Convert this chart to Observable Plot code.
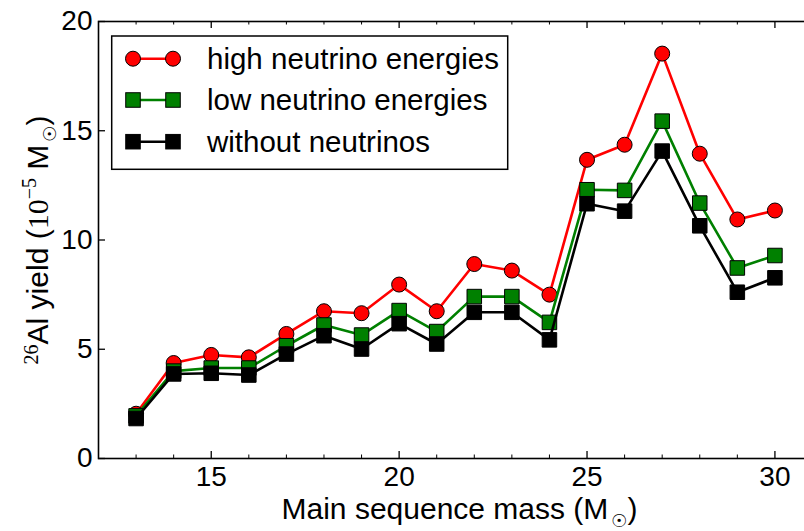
<!DOCTYPE html>
<html><head><meta charset="utf-8">
<script src="https://cdn.jsdelivr.net/npm/d3@7"></script>
<script src="https://cdn.jsdelivr.net/npm/@observablehq/plot@0.6"></script>
<style>body{margin:0;overflow:hidden;background:#fff}</style>
</head><body><div id="chart"></div>
<script>
// ---- data ----
const masses = [13,14,15,16,17,18,19,20,21,22,23,24,25,26,27,28,29,30];
const highNu = [2.05,4.37,4.74,4.63,5.70,6.74,6.65,7.96,6.74,8.90,8.60,7.50,13.67,14.36,18.53,13.95,10.94,11.35];
const lowNu  = [1.95,4.00,4.14,4.14,5.16,6.11,5.65,6.77,5.81,7.41,7.41,6.23,12.30,12.27,15.44,11.69,8.72,9.29];
const noNu   = [1.83,3.87,3.90,3.82,4.78,5.62,5.01,6.17,5.24,6.69,6.69,5.43,11.66,11.32,14.07,10.65,7.61,8.27];
const seriesNames = ["high neutrino energies","low neutrino energies","without neutrinos"];
const xMajorTicks = [15,20,25,30];
const xMinorTicks = [13,14,16,17,18,19,21,22,23,24,26,27,28,29];
const yTicks = [0,5,10,15,20];
const xLabelText = "Main sequence mass (M☉)";
const yLabelText = "26Al yield (10−5 M☉)";

// ---- styles ----
const colors = ["#ff0000","#008000","#000000"];
const symbols = ["circle","square","square"];
const radii = [7.5,8.2,8.2];
const W = 804, H = 531, mL = 98, mT = 21, mB = 73, mR = -8;
const innerH = H - mT - mB, innerW = W - mL - mR;
const FONT = "Liberation Sans, Arial, sans-serif";
const FS = 28, LFS = 30, LEGFS = 29.5;

const allSeries = [highNu, lowNu, noNu];
const rows = [];
seriesNames.forEach((s, i) => masses.forEach((m, j) => rows.push({series: s, idx: i, mass: m, y: allSeries[i][j]})));

const marks = [];
seriesNames.forEach((s, i) => {
  const d = rows.filter(r => r.idx === i);
  marks.push(Plot.line(d, {x: "mass", y: "y", stroke: colors[i], strokeWidth: 2.6}));
  marks.push(Plot.dot(d, {x: "mass", y: "y", symbol: symbols[i], r: radii[i], fill: colors[i], stroke: "#000", strokeWidth: 1}));
});

const plot = Plot.plot({
  width: W, height: H,
  marginLeft: mL, marginTop: mT, marginBottom: mB, marginRight: mR,
  style: {fontFamily: FONT, fontSize: FS + "px", overflow: "hidden", background: "#fff"},
  x: {domain: [12, 31], axis: null},
  y: {domain: [0, 20], axis: null},
  marks: [
    ...marks,
    Plot.frame({stroke: "#000", strokeWidth: 1.6}),
    Plot.ruleX(xMajorTicks, {x: d => d, insetTop: innerH - 7, stroke: "#000", strokeWidth: 1.3}),
    Plot.ruleX(xMajorTicks, {x: d => d, insetBottom: innerH - 7, stroke: "#000", strokeWidth: 1.3}),
    Plot.ruleX(xMinorTicks, {x: d => d, insetTop: innerH - 3.5, stroke: "#000", strokeWidth: 1}),
    Plot.ruleX(xMinorTicks, {x: d => d, insetBottom: innerH - 3.5, stroke: "#000", strokeWidth: 1}),
    Plot.ruleY(yTicks, {y: d => d, insetRight: innerW - 7, stroke: "#000", strokeWidth: 1.3}),
    Plot.axisX(xMajorTicks, {anchor: "bottom", tickSize: 0, tickPadding: 8, fontSize: FS, label: null}),
    Plot.axisY(yTicks, {anchor: "left", tickSize: 0, tickPadding: 6, fontSize: FS, label: null}),
    Plot.text([xLabelText], {frameAnchor: "bottom", text: d => d, textAnchor: "middle", lineAnchor: "middle", dy: 51, dx: 4, fontSize: LFS, fill: "#000"}),
    Plot.text([yLabelText], {frameAnchor: "left", text: d => d, textAnchor: "middle", rotate: -90, lineAnchor: "middle", dx: -60, fontSize: LFS, fill: "#000"})
  ]
});
document.getElementById("chart").appendChild(plot);

const svg = d3.select(plot);
// rich text for axis labels (super/subscripts via baseline-shift)
svg.selectAll("text").filter(function(){ return this.textContent === xLabelText; }).each(function(){
  const t = d3.select(this); t.text(null);
  t.append("tspan").text("Main sequence mass (M");
  t.append("tspan").attr("font-family", "DejaVu Sans").attr("font-size", 18).attr("baseline-shift", "-8").attr("dx", 3).text("☉");
  t.append("tspan").text(")");
});
svg.selectAll("text").filter(function(){ return this.textContent === yLabelText; }).each(function(){
  const t = d3.select(this); t.text(null);
  t.append("tspan").attr("font-family", "Liberation Serif").attr("font-size", 20).attr("baseline-shift", "10").text("26");
  t.append("tspan").text("Al yield (");
  t.append("tspan").attr("font-family", "Liberation Serif").text("10");
  t.append("tspan").attr("font-family", "Liberation Serif").attr("font-size", 20).attr("baseline-shift", "12").text("−5");
  t.append("tspan").text(" M");
  t.append("tspan").attr("font-family", "DejaVu Sans").attr("font-size", 18).attr("baseline-shift", "-8").attr("dx", 3).text("☉");
  t.append("tspan").text(")");
});

// legend
const lg = svg.append("g");
lg.append("rect").attr("x", 111.7).attr("y", 36).attr("width", 396).attr("height", 133.3)
  .attr("fill", "#fff").attr("stroke", "#000").attr("stroke-width", 1.5);
const rowY = [58.7, 100, 141.7];
seriesNames.forEach((s, i) => {
  const y = rowY[i];
  lg.append("line").attr("x1", 133).attr("x2", 173).attr("y1", y).attr("y2", y).attr("stroke", colors[i]).attr("stroke-width", 2.6);
  [133, 173].forEach(x => {
    if (symbols[i] === "circle") {
      lg.append("circle").attr("cx", x).attr("cy", y).attr("r", radii[i]).attr("fill", colors[i]).attr("stroke", "#000");
    } else {
      const h = radii[i] * Math.sqrt(Math.PI) / 2;
      lg.append("rect").attr("x", x - h).attr("y", y - h).attr("width", 2 * h).attr("height", 2 * h).attr("fill", colors[i]).attr("stroke", "#000");
    }
  });
  lg.append("text").attr("x", 207).attr("y", y).attr("dy", "0.35em").attr("text-anchor", "start")
    .attr("font-size", LEGFS).attr("font-family", FONT).attr("fill", "#000").text(s);
});
</script></body></html>
